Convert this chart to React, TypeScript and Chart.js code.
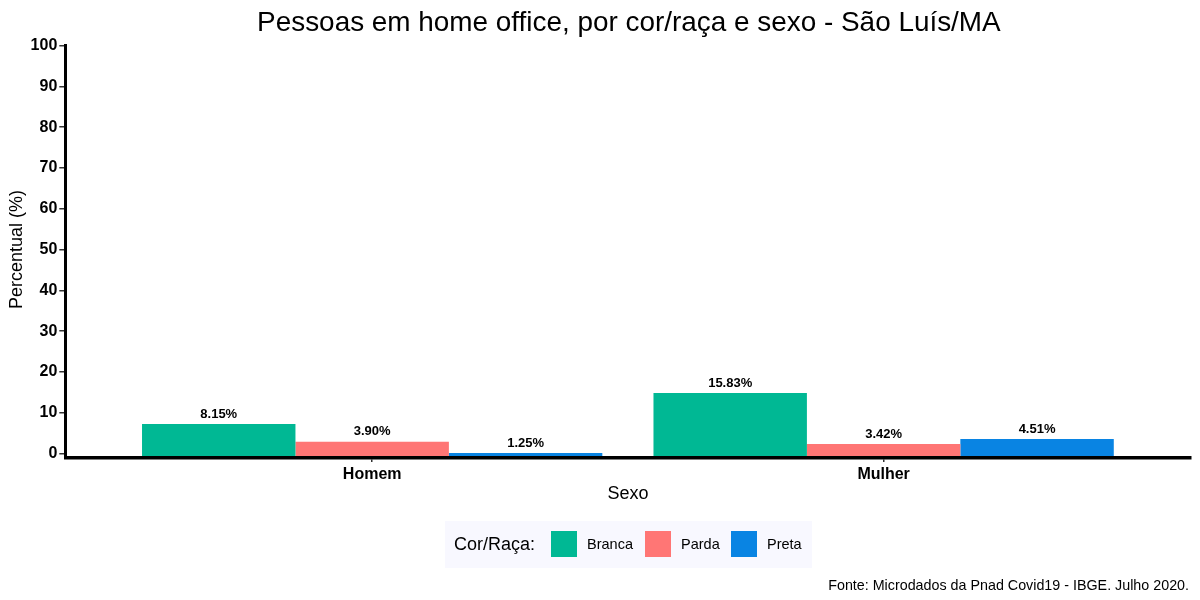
import React, { useEffect, useRef } from "react";
import { Chart, registerables } from "chart.js";

Chart.register(...registerables);

const FONT = '"Liberation Sans", Arial, Helvetica, sans-serif';

const TITLE = "Pessoas em home office, por cor/raça e sexo - São Luís/MA";
const Y_TITLE = "Percentual (%)";
const X_TITLE = "Sexo";
const LEGEND_TITLE = "Cor/Raça:";
const CAPTION = "Fonte: Microdados da Pnad Covid19 - IBGE. Julho 2020.";

const CATEGORIES = ["Homem", "Mulher"];
const SERIES_NAMES = ["Branca", "Parda", "Preta"];
const BRANCA = [7.2, 14.8];
const PARDA = [2.87, 2.3];
const PRETA = [0.1, 3.53];
const LABELS_BRANCA = ["8.15%", "15.83%"];
const LABELS_PARDA = ["3.90%", "3.42%"];
const LABELS_PRETA = ["1.25%", "4.51%"];
const COLORS = ["#00B894", "#FF7675", "#0984E3"];
const Y_TICKS = [0, 10, 20, 30, 40, 50, 60, 70, 80, 90, 100];
const Y_MIN = -1;
const Y_MAX = 100;

const SERIES = [BRANCA, PARDA, PRETA];
const SERIES_LABELS = [LABELS_BRANCA, LABELS_PARDA, LABELS_PRETA];

const overlayPlugin = {
  id: "overlay",
  afterDatasetsDraw(chart: any) {
    const ctx = chart.ctx;
    ctx.save();
    ctx.fillStyle = "#000";
    ctx.font = `bold 13px ${FONT}`;
    ctx.textAlign = "center";
    ctx.textBaseline = "middle";
    chart.data.datasets.forEach((ds: any, di: number) => {
      const meta = chart.getDatasetMeta(di);
      meta.data.forEach((el: any, i: number) => {
        ctx.fillText(SERIES_LABELS[di][i], el.x, el.y - 10);
      });
    });
    ctx.restore();
  },
  afterDraw(chart: any) {
    const ctx = chart.ctx;
    const area = chart.chartArea;
    const xScale = chart.scales.x;
    const cx = (area.left + area.right) / 2;
    ctx.save();
    ctx.fillStyle = "#000";

    // title
    ctx.font = `27.9px ${FONT}`;
    ctx.textAlign = "center";
    ctx.textBaseline = "alphabetic";
    ctx.fillText(TITLE, cx + 1, 30.5);

    // x tick labels
    ctx.font = `bold 16px ${FONT}`;
    CATEGORIES.forEach((c, i) => {
      ctx.fillText(c, xScale.getPixelForValue(i + 1), 479);
    });

    // x title
    ctx.font = `18px ${FONT}`;
    ctx.fillText(X_TITLE, cx, 499);

    // y title
    ctx.save();
    ctx.translate(17, (area.top + area.bottom) / 2 - 2);
    ctx.rotate(-Math.PI / 2);
    ctx.textBaseline = "middle";
    ctx.fillText(Y_TITLE, 0, 0);
    ctx.restore();

    // legend
    ctx.fillStyle = "#F8F8FF";
    ctx.fillRect(445, 521, 367, 47);
    ctx.fillStyle = "#000";
    ctx.textAlign = "left";
    ctx.textBaseline = "middle";
    ctx.font = `18px ${FONT}`;
    ctx.fillText(LEGEND_TITLE, 454, 545);
    const swatchX = [551, 645, 731];
    ctx.font = `14.5px ${FONT}`;
    SERIES_NAMES.forEach((n, i) => {
      ctx.fillStyle = COLORS[i];
      ctx.fillRect(swatchX[i], 531, 26, 26);
      ctx.fillStyle = "#000";
      ctx.fillText(n, swatchX[i] + 36, 545);
    });

    // caption
    ctx.textAlign = "right";
    ctx.textBaseline = "alphabetic";
    ctx.font = `14.3px ${FONT}`;
    ctx.fillText(CAPTION, 1189, 590);
    ctx.restore();
  },
};

export default function App() {
  const ref = useRef<HTMLCanvasElement | null>(null);

  useEffect(() => {
    if (!ref.current) return;
    Chart.defaults.font.family = FONT;
    const chart = new Chart(ref.current, {
      type: "bar",
      data: {
        datasets: SERIES.map((vals, si) => ({
          label: SERIES_NAMES[si],
          data: vals.map((v, i) => ({ x: i + 1, y: v })),
          backgroundColor: COLORS[si],
          borderWidth: 0,
          base: Y_MIN,
          categoryPercentage: 0.9,
          barPercentage: 1,
        })),
      },
      options: {
        responsive: false,
        animation: false,
        devicePixelRatio: 1,
        layout: { padding: { top: 45.7, right: 9.5, left: 0, bottom: 0 } },
        plugins: {
          legend: { display: false },
          title: { display: false },
          tooltip: { enabled: false },
        },
        scales: {
          x: {
            type: "linear",
            min: 0.4,
            max: 2.6,
            offset: false,
            afterBuildTicks: (s: any) => {
              s.ticks = CATEGORIES.map((_, i) => ({ value: i + 1 }));
            },
            afterFit: (s: any) => {
              s.height = 142.5;
            },
            ticks: { display: false },
            grid: {
              display: true,
              drawOnChartArea: false,
              drawTicks: true,
              tickLength: 4.5,
              color: "#333",
              lineWidth: 1.5,
              offset: false,
            },
            border: { display: true, color: "#000", width: 3.5, z: 1 },
          },
          y: {
            type: "linear",
            min: Y_MIN,
            max: Y_MAX,
            afterBuildTicks: (s: any) => {
              s.ticks = Y_TICKS.map((v) => ({ value: v }));
            },
            afterFit: (s: any) => {
              s.width = 65.3;
            },
            ticks: {
              color: "#000",
              padding: 2,
              font: { family: FONT, size: 16, weight: "bold" },
            },
            grid: {
              display: true,
              drawOnChartArea: false,
              drawTicks: true,
              tickLength: 6,
              color: "#333",
              lineWidth: 1.5,
            },
            border: { display: true, color: "#000", width: 3, z: 1 },
          },
        },
      } as any,
      plugins: [overlayPlugin],
    });
    return () => chart.destroy();
  }, []);

  return (
    <div style={{ position: "fixed", left: 0, top: 0, width: 1200, height: 600, background: "#fff" }}>
      <canvas ref={ref} width={1200} height={600} style={{ display: "block" }} />
    </div>
  );
}
